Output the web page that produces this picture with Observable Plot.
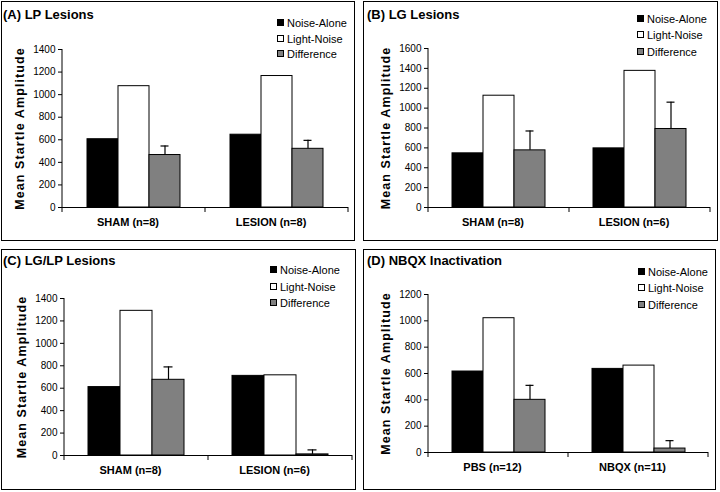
<!DOCTYPE html>
<html>
<head>
<meta charset="utf-8">
<script src="https://cdn.jsdelivr.net/npm/d3@7"></script>
<script src="https://cdn.jsdelivr.net/npm/@observablehq/plot@0.6"></script>
<style>
  html, body { margin: 0; padding: 0; background: #fff; }
  body { width: 720px; height: 492px; position: relative; overflow: hidden; font-family: "Liberation Sans", Arial, sans-serif; }
  .panel { position: absolute; box-sizing: border-box; border: 1px solid #000; }
  .panel svg { position: absolute; left: 0; top: 0; }
  .title { position: absolute; font-weight: bold; font-size: 13px; line-height: 13px; white-space: nowrap; }
  .legend { position: absolute; font-size: 11px; }
  .legend .row { position: absolute; left: 0; height: 12px; line-height: 12px; white-space: nowrap; }
  .legend .sw { position: absolute; left: 0; top: 2px; width: 7px; height: 7px; box-sizing: border-box; border: 1px solid #000; }
  .legend .lb { position: absolute; left: 10px; top: 0; }
</style>
</head>
<body>
<script>
// ---- data ----
const series = ["Noise-Alone", "Light-Noise", "Difference"];
const seriesColors = ["#000000", "#ffffff", "#808080"];
const yLabel = "Mean Startle Amplitude";

const titleA = "(A) LP Lesions";
const groupsA = ["SHAM (n=8)", "LESION (n=8)"];
const noiseA = [605, 645];
const lightA = [1075, 1165];
const diffA = [465, 520];
const errA = [80, 75];
const ticksA = [0, 200, 400, 600, 800, 1000, 1200, 1400];

const titleB = "(B) LG Lesions";
const groupsB = ["SHAM (n=8)", "LESION (n=6)"];
const noiseB = [545, 595];
const lightB = [1125, 1375];
const diffB = [575, 790];
const errB = [195, 270];
const ticksB = [0, 200, 400, 600, 800, 1000, 1200, 1400, 1600];

const titleC = "(C) LG/LP Lesions";
const groupsC = ["SHAM (n=8)", "LESION (n=6)"];
const noiseC = [610, 710];
const lightC = [1290, 715];
const diffC = [675, 10];
const errC = [115, 40];
const ticksC = [0, 200, 400, 600, 800, 1000, 1200, 1400];

const titleD = "(D) NBQX Inactivation";
const groupsD = ["PBS (n=12)", "NBQX (n=11)"];
const noiseD = [615, 635];
const lightD = [1020, 660];
const diffD = [400, 30];
const errD = [110, 60];
const ticksD = [0, 200, 400, 600, 800, 1000, 1200];

// ---- layout ----
const panels = [
  {title: titleA, groups: groupsA, noise: noiseA, light: lightA, diff: diffA, err: errA, ticks: ticksA,
   L: 1, T: 1, W: 354, H: 240, ml: 59, mr: 6, mt: 47, mb: 33, titleX: 1, titleY: 5.5, legX: 275, legY: [21, 37, 52]},
  {title: titleB, groups: groupsB, noise: noiseB, light: lightB, diff: diffB, err: errB, ticks: ticksB,
   L: 363, T: 1, W: 355, H: 240, ml: 64, mr: 7, mt: 46, mb: 33, titleX: 3, titleY: 5.5, legX: 273, legY: [17, 33, 50]},
  {title: titleC, groups: groupsC, noise: noiseC, light: lightC, diff: diffC, err: errC, ticks: ticksC,
   L: 1, T: 249, W: 355, H: 241, ml: 61, mr: 3, mt: 48, mb: 34, titleX: 1, titleY: 3.5, legX: 268, legY: [20, 37, 53]},
  {title: titleD, groups: groupsD, noise: noiseD, light: lightD, diff: diffD, err: errD, ticks: ticksD,
   L: 363, T: 249, W: 353, H: 241, ml: 64, mr: 7, mt: 44, mb: 37, titleX: 3, titleY: 3.5, legX: 274, legY: [22, 38, 55]}
];

function makePanel(p) {
  const div = document.createElement("div");
  div.className = "panel";
  Object.assign(div.style, {left: p.L + "px", top: p.T + "px", width: p.W + "px", height: p.H + "px"});
  document.body.appendChild(div);

  const rows = [];
  p.groups.forEach((g, i) => {
    rows.push({group: g, series: series[0], value: p.noise[i]});
    rows.push({group: g, series: series[1], value: p.light[i]});
    rows.push({group: g, series: series[2], value: p.diff[i]});
  });
  const errRows = p.groups.map((g, i) => ({group: g, series: series[2], value: p.diff[i], top: p.diff[i] + p.err[i]}));

  const w = p.W - 2, h = p.H - 2;
  const plot = Plot.plot({
    width: w, height: h,
    marginLeft: p.ml, marginRight: p.mr, marginTop: p.mt, marginBottom: p.mb,
    style: {fontFamily: "'Liberation Sans', Arial, sans-serif", fontSize: "10px", background: "transparent", overflow: "visible", color: "#000"},
    fx: {domain: p.groups, padding: 0, label: null, axis: null},
    x: {domain: series, paddingInner: 0, paddingOuter: 0.74, axis: null},
    y: {domain: [0, p.ticks[p.ticks.length - 1]], axis: null},
    color: {domain: series, range: seriesColors},
    marks: [
      Plot.barY(rows, {fx: "group", x: "series", y: "value", fill: "series", stroke: "#000", strokeWidth: 1}),
      Plot.ruleX(errRows, {fx: "group", x: "series", y1: "value", y2: "top", stroke: "#000", strokeWidth: 1.2}),
      Plot.tickY(errRows, {fx: "group", x: "series", y: "top", stroke: "#000", strokeWidth: 1.2, insetLeft: 11.5, insetRight: 11.5}),
      Plot.ruleY([0], {stroke: "#000"}),
      Plot.axisY({ticks: p.ticks, tickSize: 4, tickPadding: 3, tickFormat: d => String(d),
                  label: yLabel, labelAnchor: "center", labelArrow: "none", labelOffset: 47}),
      Plot.axisFx({anchor: "bottom", tickSize: 0, tickPadding: 11, fontWeight: "bold", fontSize: 11, dx: -6, label: null})
    ]
  });
  div.appendChild(plot);

  const svg = d3.select(plot);
  svg.selectAll('[aria-label="y-axis label"] text')
    .text(yLabel)
    .attr("font-weight", "bold").attr("font-size", 12.5).style("letter-spacing", "1.1px");

  // axis line and category-boundary tick marks (positions from Plot's own scales)
  const fx = plot.scale("fx"), y = plot.scale("y");
  const y0 = y.apply(0);
  const yTop = y.apply(p.ticks[p.ticks.length - 1]);
  const edges = p.groups.map(g => fx.apply(g));
  edges.push(fx.apply(p.groups[p.groups.length - 1]) + fx.bandwidth);
  const g = svg.append("g").attr("stroke", "#000");
  g.append("line").attr("x1", edges[0]).attr("x2", edges[0]).attr("y1", yTop).attr("y2", y0);
  g.selectAll("line.edge").data(edges).join("line").attr("class", "edge")
    .attr("x1", d => d).attr("x2", d => d).attr("y1", y0).attr("y2", y0 + 5);

  const t = document.createElement("div");
  t.className = "title";
  t.textContent = p.title;
  Object.assign(t.style, {left: p.titleX + "px", top: p.titleY + "px"});
  div.appendChild(t);

  const leg = document.createElement("div");
  leg.className = "legend";
  Object.assign(leg.style, {left: p.legX + "px", top: "0px"});
  series.forEach((s, i) => {
    const r = document.createElement("div");
    r.className = "row";
    r.style.top = (p.legY[i] - 6) + "px";
    const sw = document.createElement("span");
    sw.className = "sw";
    sw.style.background = seriesColors[i];
    const lb = document.createElement("span");
    lb.className = "lb";
    lb.textContent = s;
    r.appendChild(sw); r.appendChild(lb);
    leg.appendChild(r);
  });
  div.appendChild(leg);
}

panels.forEach(makePanel);
</script>
</body>
</html>
